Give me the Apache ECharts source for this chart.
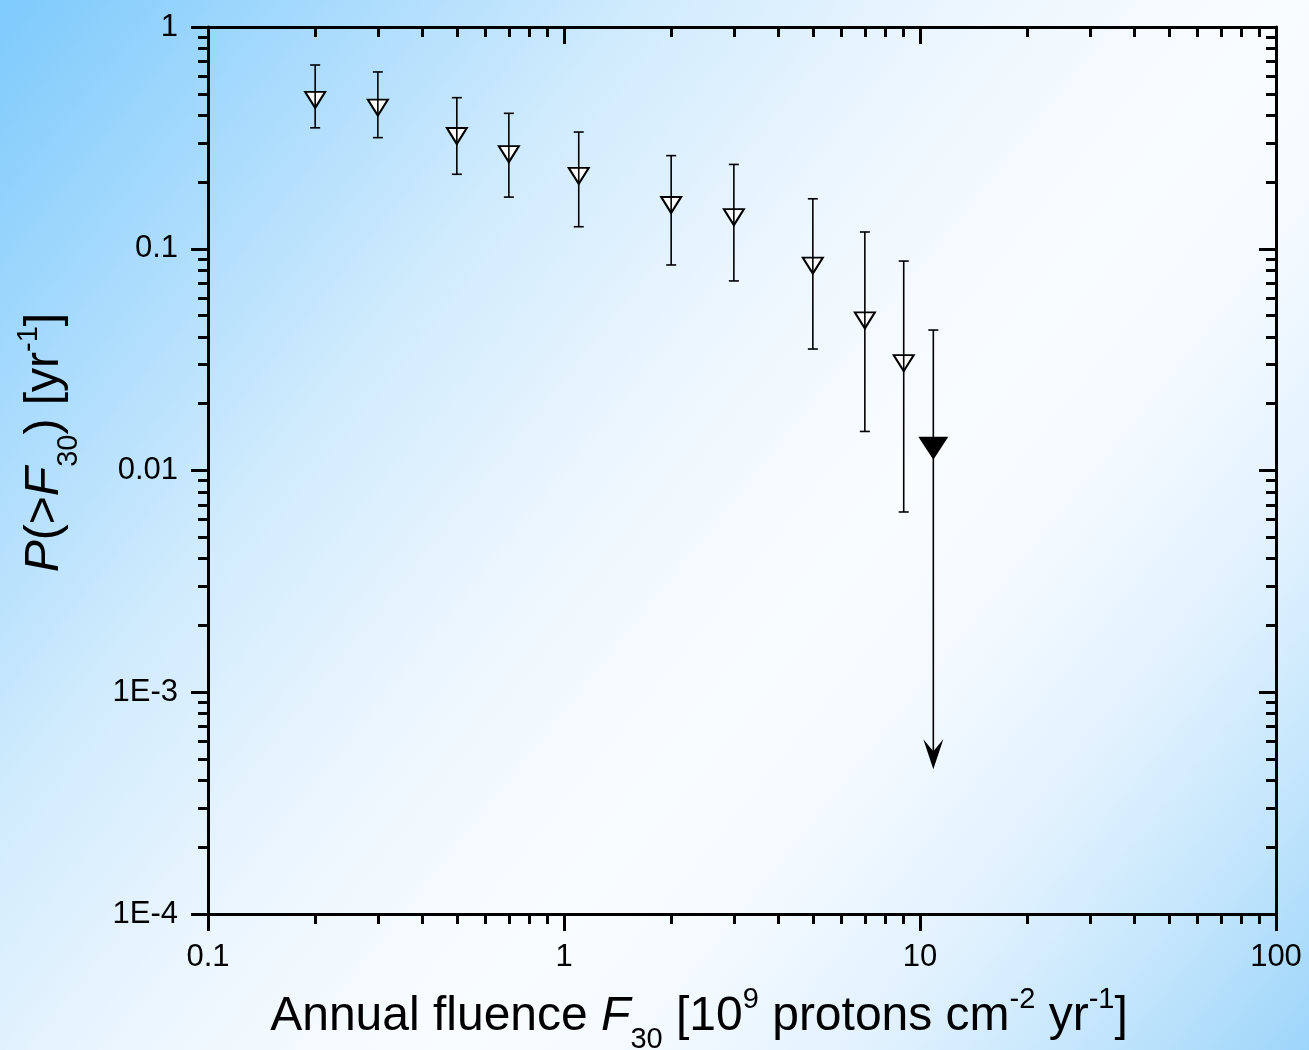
<!DOCTYPE html>
<html>
<head>
<meta charset="utf-8">
<script src="https://cdn.jsdelivr.net/npm/echarts@6/dist/echarts.min.js"></script>
<style>
  html, body { margin: 0; padding: 0; }
  #chart { width: 1309px; height: 1050px; }
</style>
</head>
<body>
<div id="chart"></div>
<script>
// measured points: annual fluence (1e9 cm^-2 yr^-1) vs probability per year
const fluence = [0.2, 0.3, 0.5, 0.7, 1.1, 2, 3, 5, 7, 9];
const prob = [0.469, 0.433, 0.3225, 0.267, 0.2133, 0.1575, 0.1388, 0.084, 0.0475, 0.0305];
const probHigh = [0.674, 0.627, 0.48, 0.408, 0.336, 0.263, 0.24, 0.168, 0.119, 0.088];
const probLow = [0.351, 0.317, 0.2167, 0.171, 0.1257, 0.0845, 0.0716, 0.0353, 0.015, 0.0065];

// upper limit point (filled marker with arrow)
const limitFluence = [10.9];
const limitProb = [0.0126];
const limitHigh = [0.043];
const limitArrowTo = [0.00045];

const xTickLabels = ['0.1', '1', '10', '100'];
const yTickLabels = ['1E-4', '1E-3', '0.01', '0.1', '1'];
const xDecades = [-1, 0, 1];
const yDecades = [-4, -3, -2, -1];
const minorSteps = [2, 3, 4, 5, 6, 7, 8, 9];

const FONT = 'Arial, "Liberation Sans", sans-serif';
const black = { color: '#000', width: 3 };

const xMinor = xDecades.flatMap((d) => minorSteps.map((s) => d + Math.log10(s)));
const yMinor = yDecades.flatMap((d) => minorSteps.map((s) => d + Math.log10(s)));

const titleRich = {
  n: { fontSize: 48, lineHeight: 48, fontFamily: FONT, color: '#000' },
  i: { fontSize: 48, lineHeight: 48, fontFamily: FONT, color: '#000', fontStyle: 'italic' },
  sub: { fontSize: 29, lineHeight: 29, fontFamily: FONT, color: '#000', padding: [48, 0, 0, 0] },
  sup: { fontSize: 29, lineHeight: 29, fontFamily: FONT, color: '#000', padding: [0, 0, 33, 0] },
};

const xName = '{n|Annual fluence }{i|F}{sub|30}{n| [10}{sup|9}{n| protons cm}{sup|-2}{n| yr}{sup|-1}{n|]}';
const yName = '{i|P}{n|(>}{i|F}{sub|30}{n|) [yr}{sup|-1}{n|]}';

function logLabel(labels, offset) {
  return (v) => labels[Math.round(Math.log10(v)) + offset];
}

function majorAxis(pos, min, max, extra) {
  return Object.assign({
    type: 'log', logBase: 10, min, max, position: pos,
    axisLine: { show: true, onZero: false, lineStyle: black },
    axisTick: { show: true, length: 17, lineStyle: black },
    axisLabel: { show: false },
    splitLine: { show: false },
    minorTick: { show: false },
  }, extra);
}

function minorAxis(pos, min, max, values, inside) {
  return {
    type: 'value', min, max, position: pos,
    axisLine: { show: false, onZero: false },
    axisTick: { show: true, inside, length: 10, customValues: values, lineStyle: black },
    axisLabel: { show: false },
    splitLine: { show: false },
  };
}

function renderErrorBar(params, api) {
  const x = api.value(0);
  const top = api.coord([x, api.value(2)]);
  const bot = api.coord([x, api.value(1)]);
  const style = { stroke: '#000', lineWidth: 1.6 };
  return {
    type: 'group',
    children: [
      { type: 'line', shape: { x1: top[0], y1: top[1], x2: bot[0], y2: bot[1] }, style },
      { type: 'line', shape: { x1: top[0] - 5, y1: top[1], x2: top[0] + 5, y2: top[1] }, style },
      { type: 'line', shape: { x1: bot[0] - 5, y1: bot[1], x2: bot[0] + 5, y2: bot[1] }, style },
    ],
  };
}

function renderLimit(params, api) {
  const x = api.value(0);
  const top = api.coord([x, api.value(2)]);
  const tip = api.coord([x, api.value(1)]);
  const style = { stroke: '#000', lineWidth: 1.6 };
  return {
    type: 'group',
    children: [
      { type: 'line', shape: { x1: top[0], y1: top[1], x2: tip[0], y2: tip[1] - 10 }, style },
      { type: 'line', shape: { x1: top[0] - 5, y1: top[1], x2: top[0] + 5, y2: top[1] }, style },
      {
        type: 'polygon',
        shape: { points: [[tip[0], tip[1]], [tip[0] - 10, tip[1] - 30], [tip[0], tip[1] - 18], [tip[0] + 10, tip[1] - 30]] },
        style: { fill: '#000' },
      },
    ],
  };
}

const chart = echarts.init(document.getElementById('chart'));
chart.setOption({
  animation: false,
  backgroundColor: new echarts.graphic.LinearGradient(0, 0, 1, 1, [
    { offset: 0, color: '#7dcafc' },
    { offset: 0.15, color: '#a6dafd' },
    { offset: 0.3, color: '#d0ebfd' },
    { offset: 0.45, color: '#ecf6fe' },
    { offset: 0.6, color: '#fafdff' },
    { offset: 0.7, color: '#f2f9ff' },
    { offset: 0.8, color: '#e0f1fe' },
    { offset: 0.9, color: '#c2e5fc' },
    { offset: 1, color: '#9dd5fa' },
  ]),
  grid: { left: 208, right: 33, top: 27, bottom: 136, containLabel: false, outerBoundsMode: 'none' },
  xAxis: [
    majorAxis('bottom', 0.1, 100, {
      axisLabel: { show: true, formatter: logLabel(xTickLabels, 1), fontSize: 31, fontFamily: FONT, color: '#000', margin: 28 },
      name: xName, nameLocation: 'middle', nameGap: 76,
      nameTextStyle: { rich: titleRich, padding: [0, 86, 0, 0] },
    }),
    minorAxis('bottom', -1, 2, xMinor, false),
    majorAxis('top', 0.1, 100, { axisTick: { show: true, inside: true, length: 17, lineStyle: black } }),
    minorAxis('top', -1, 2, xMinor, true),
  ],
  yAxis: [
    majorAxis('left', 0.0001, 1, {
      axisLabel: { show: true, formatter: logLabel(yTickLabels, 4), fontSize: 31, fontFamily: FONT, color: '#000', margin: 30 },
      name: yName, nameLocation: 'middle', nameGap: 139,
      nameTextStyle: { rich: titleRich, padding: [0, 0, 0, 56] },
    }),
    minorAxis('left', -4, 0, yMinor, false),
    majorAxis('right', 0.0001, 1, { axisTick: { show: true, inside: true, length: 17, lineStyle: black } }),
    minorAxis('right', -4, 0, yMinor, true),
  ],
  series: [
    {
      type: 'scatter',
      silent: true,
      z: 2,
      symbol: 'triangle',
      symbolRotate: 180,
      symbolSize: [20, 16],
      itemStyle: { color: '#fff', borderColor: '#000', borderWidth: 2, opacity: 1 },
      data: fluence.map((x, i) => [x, prob[i]]),
    },
    {
      type: 'custom',
      silent: true,
      z: 3,
      renderItem: renderErrorBar,
      encode: { x: 0, y: [1, 2] },
      data: fluence.map((x, i) => [x, probLow[i], probHigh[i]]),
    },
    {
      type: 'scatter',
      silent: true,
      z: 2,
      symbol: 'triangle',
      symbolRotate: 180,
      symbolSize: [30, 23],
      itemStyle: { color: '#000', opacity: 1 },
      data: limitFluence.map((x, i) => [x, limitProb[i]]),
    },
    {
      type: 'custom',
      silent: true,
      z: 3,
      renderItem: renderLimit,
      encode: { x: 0, y: [1, 2] },
      data: limitFluence.map((x, i) => [x, limitArrowTo[i], limitHigh[i]]),
    },
  ],
});
</script>
</body>
</html>
